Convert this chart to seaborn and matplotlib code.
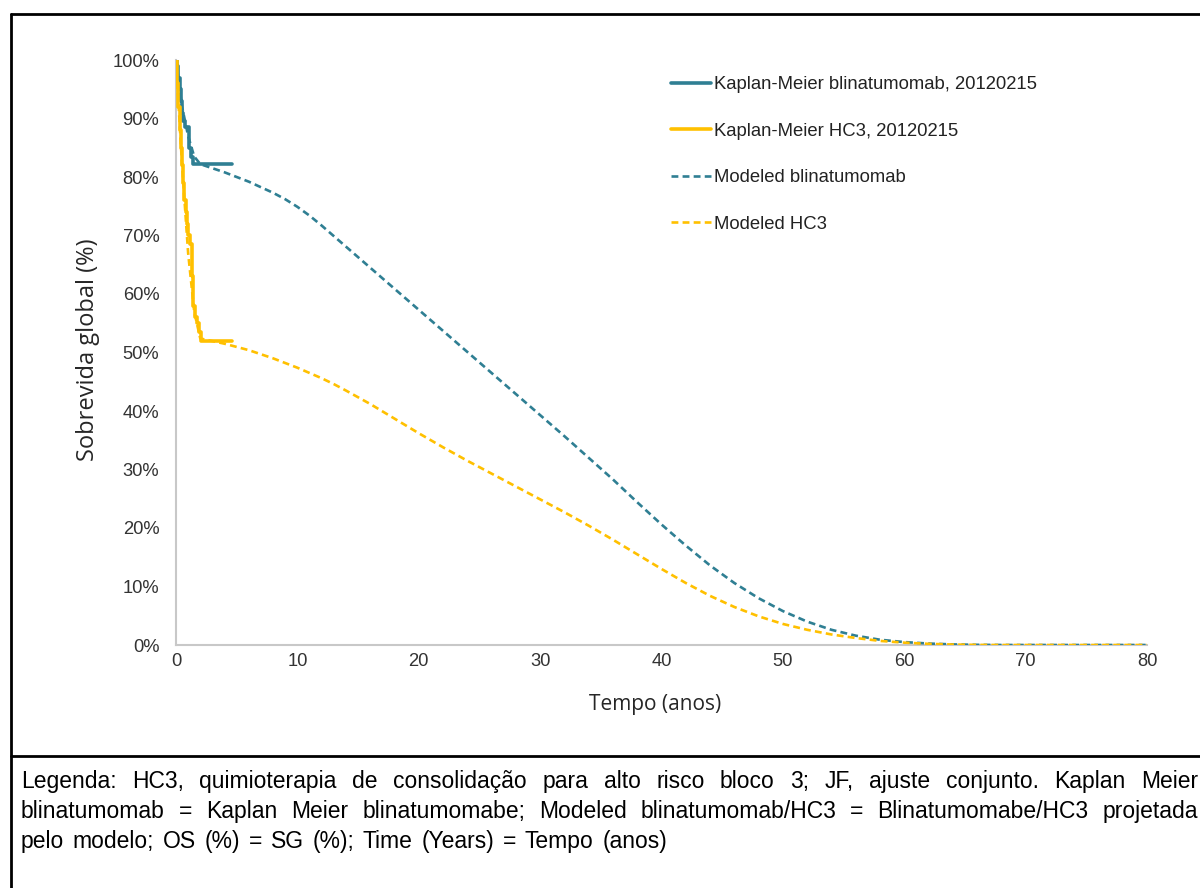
import matplotlib
matplotlib.use("Agg")
import matplotlib.pyplot as plt
import seaborn as sns
import pandas as pd
from matplotlib.lines import Line2D
from matplotlib.ticker import FuncFormatter

# ---- data ----
km_blin_t = [0, 0.1, 0.2, 0.3, 0.4, 0.5, 0.6, 0.75, 0.9, 1.1, 1.25, 1.4, 4.6]
km_blin_s = [100, 99, 97, 95, 93, 91, 89.5, 88.5, 88.5, 85, 83.5, 82.3, 82.3]

km_hc3_t = [0, 0.1, 0.2, 0.3, 0.4, 0.5, 0.6, 0.7, 0.8, 0.9, 1.0, 1.15, 1.3, 1.4, 1.55, 1.7, 1.9, 2.1, 4.6]
km_hc3_s = [100, 96, 92, 88, 85, 82, 79, 76, 74, 72, 70, 68.5, 63, 58, 56, 55, 53.5, 52, 52]

mod_t = [0, 0.5, 1, 1.5, 2, 4, 6, 8, 9, 10, 11, 12, 13, 14, 16, 18, 20, 22, 24, 26, 28, 30,
         32, 34, 36, 38, 40, 42, 44, 46, 48, 50, 52, 54, 56, 58, 60, 62, 64, 66, 68, 80]
mod_blin = [100, 92, 87, 83.5, 82.2, 80.8, 79.2, 77.3, 76.2, 74.9, 73.4, 71.7, 69.9, 68.1, 64.5, 60.9,
            57.3, 53.7, 50.1, 46.5, 42.9, 39.3, 35.7, 32.0, 28.3, 24.4, 20.6, 17.0, 13.6, 10.6, 8.0,
            5.8, 4.0, 2.6, 1.6, 0.9, 0.5, 0.25, 0.1, 0.03, 0, 0]
mod_hc3 = [100, 82, 67, 57, 52.4, 51.5, 50.4, 49.0, 48.2, 47.4, 46.5, 45.6, 44.6, 43.5, 41.2, 38.7,
           36.2, 33.8, 31.5, 29.3, 27.1, 24.9, 22.7, 20.4, 18.0, 15.5, 13.0, 10.6, 8.4, 6.5, 4.9,
           3.6, 2.6, 1.8, 1.2, 0.7, 0.4, 0.2, 0.08, 0.02, 0, 0]

labels = ["Kaplan-Meier blinatumomab, 20120215", "Kaplan-Meier HC3, 20120215",
          "Modeled blinatumomab", "Modeled HC3"]
x_ticks = [0, 10, 20, 30, 40, 50, 60, 70, 80]
y_ticks = [0, 10, 20, 30, 40, 50, 60, 70, 80, 90, 100]

caption_lines = [
    "Legenda: HC3, quimioterapia de consolidação para alto risco bloco 3; JF, ajuste conjunto. Kaplan Meier",
    "blinatumomab = Kaplan Meier blinatumomabe; Modeled blinatumomab/HC3 = Blinatumomabe/HC3 projetada",
    "pelo modelo; OS (%) = SG (%); Time (Years) = Tempo (anos)",
]

# ---- style ----
sns.set_style("white")
plt.rcParams['font.family'] = ['Liberation Sans', 'DejaVu Sans']

TEAL = '#2f7f93'
GOLD = '#ffc000'

W, H = 1200, 888
fig = plt.figure(figsize=(12, 8.88), dpi=100)
ax = fig.add_axes([176 / W, 1 - 645 / H, (1147 - 176) / W, (645 - 60) / H])

df_kb = pd.DataFrame({'t': km_blin_t, 's': km_blin_s})
df_kh = pd.DataFrame({'t': km_hc3_t, 's': km_hc3_s})
df_m = pd.DataFrame({'t': mod_t, 'b': mod_blin, 'h': mod_hc3})

sns.lineplot(data=df_m, x='t', y='b', ax=ax, color=TEAL, lw=1.9,
             linestyle=(0, (2.6, 1.6)), label=labels[2], zorder=3)
sns.lineplot(data=df_m, x='t', y='h', ax=ax, color=GOLD, lw=1.9,
             linestyle=(0, (2.6, 1.6)), label=labels[3], zorder=3)
sns.lineplot(data=df_kb, x='t', y='s', ax=ax, color=TEAL, lw=2.6,
             drawstyle='steps-post', label=labels[0], zorder=4)
sns.lineplot(data=df_kh, x='t', y='s', ax=ax, color=GOLD, lw=2.6,
             drawstyle='steps-post', label=labels[1], zorder=4)

ax.set_xlim(0, 80)
ax.set_ylim(0, 100)
ax.set_xticks(x_ticks)
ax.set_yticks(y_ticks)
ax.yaxis.set_major_formatter(FuncFormatter(lambda v, p: f"{int(v)}%"))
ax.tick_params(axis='both', length=0, labelsize=13.2, colors='#333333')
ax.tick_params(axis='y', pad=12)
ax.tick_params(axis='x', pad=6)
for s in ['top', 'right']:
    ax.spines[s].set_visible(False)
for s in ['left', 'bottom']:
    ax.spines[s].set_color('#c8c8c8')
    ax.spines[s].set_linewidth(1.5)
ax.set_xlabel("Tempo (anos)", fontsize=15, family=['Open Sans', 'DejaVu Sans'])
ax.set_ylabel("Sobrevida global (%)", fontsize=17, family=['Open Sans', 'DejaVu Sans'])
ax.xaxis.set_label_coords((655 - 176) / 971, -(694 - 645) / 585)
ax.yaxis.set_label_coords(-(176 - 100) / 971, (645 - 350) / 585)

h, l = ax.get_legend_handles_labels()
order = [2, 3, 0, 1]
leg = ax.legend([h[i] for i in order], [l[i] for i in order],
                loc='upper left', bbox_to_anchor=(671 / W, 1 - 76 / H),
                bbox_transform=fig.transFigure, frameon=False, fontsize=13.3,
                handlelength=2.15, handletextpad=0.2, labelspacing=1.6,
                borderaxespad=0, borderpad=0)
for t in leg.get_texts():
    t.set_color('#222222')

# ---- frame lines ----
lw = 2.0
fx = 11 / W
fig.add_artist(Line2D([fx, fx], [0, 1 - 14 / H], transform=fig.transFigure, color='black', lw=lw))
fig.add_artist(Line2D([fx, 1], [1 - 14 / H, 1 - 14 / H], transform=fig.transFigure, color='black', lw=lw))
fig.add_artist(Line2D([fx, 1], [1 - 756 / H, 1 - 756 / H], transform=fig.transFigure, color='black', lw=lw))

# ---- caption (justified lines) ----
cap_kw = dict(fontsize=16.5, color='black', va='baseline', ha='left')
baselines = [788, 818, 848]
line_ends = [1198, 1198, 667]
renderer = fig.canvas.get_renderer()
for i, line in enumerate(caption_lines):
    y = 1 - baselines[i] / H
    words = line.split(' ')
    texts = [fig.text(0, y, w, **cap_kw) for w in words]
    widths = [t.get_window_extent(renderer).width for t in texts]
    x0, x1 = 21, line_ends[i]
    gap = (x1 - x0 - sum(widths)) / (len(words) - 1)
    x = x0
    for t, w in zip(texts, widths):
        t.set_x(x / W)
        x += w + gap

fig.savefig("out.png", dpi=100)
